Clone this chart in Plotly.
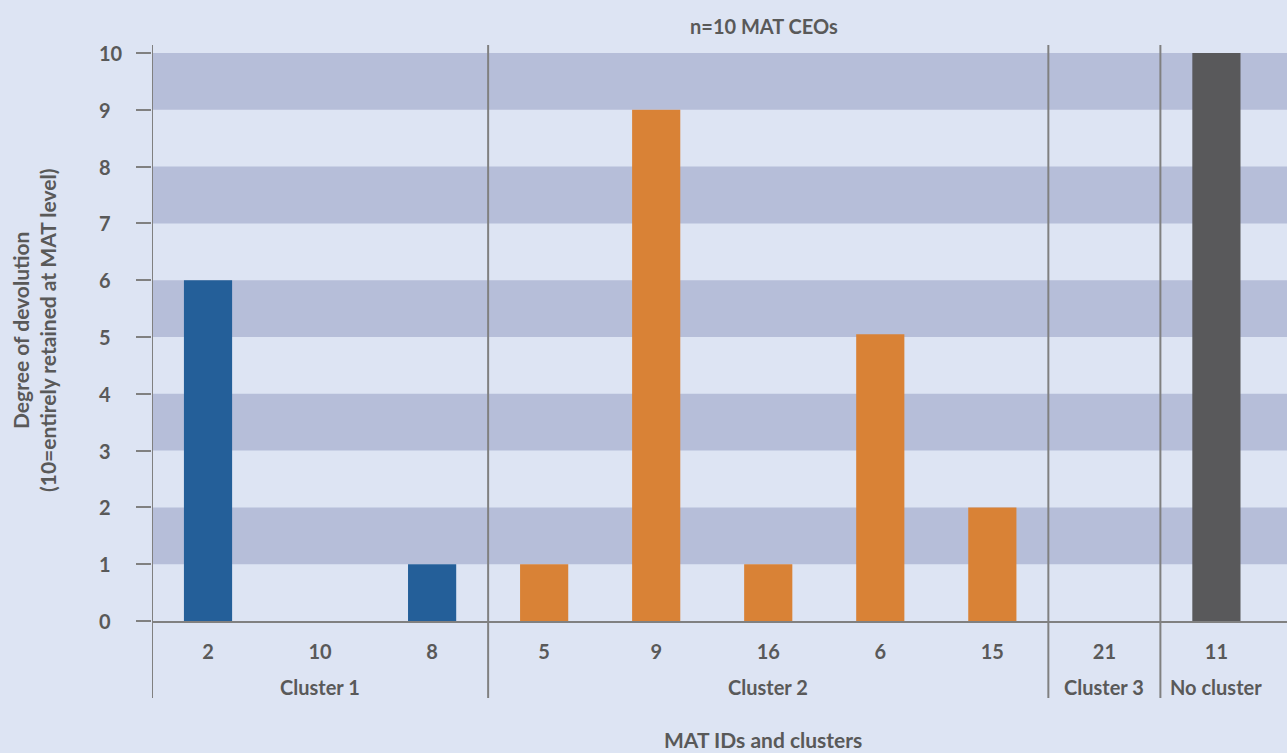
import plotly.graph_objects as go

ids = ["2", "10", "8", "5", "9", "16", "6", "15", "21", "11"]
values = [6, 0, 1, 1, 9, 1, 5.05, 2, 0, 10]
clusters = ["Cluster 1"] * 3 + ["Cluster 2"] * 5 + ["Cluster 3"] + ["No cluster"]
cluster_names = ["Cluster 1", "Cluster 2", "Cluster 3", "No cluster"]
cluster_colors = {"Cluster 1": "#245f99", "Cluster 2": "#d98236",
                  "Cluster 3": "#d98236", "No cluster": "#59595b"}
y_ticks = list(range(0, 11))
title_text = "n=10 MAT CEOs"
x_title = "MAT IDs and clusters"
y_title = "Degree of devolution<br>(10=entirely retained at MAT level)"

BG = "#dde4f3"
BAND = "#b6bed9"
LINE = "#808080"
TXT = "#595959"
FONT = "Lato"

PL, PT, PB = 152, 53, 621
PW, PH = 1287 - PL, PB - PT

xs = list(range(len(ids)))
fig = go.Figure()
fig.add_trace(go.Bar(x=xs, y=values, marker_color=[cluster_colors[c] for c in clusters],
                     marker_line_width=0, width=0.43, showlegend=False))

shapes = []
for lo in range(1, 10, 2):
    shapes.append(dict(type="rect", xref="paper", yref="y", x0=0, x1=1, y0=lo, y1=lo + 1,
                       fillcolor=BAND, line_width=0, layer="below"))
bounds = [-0.5]
for i in range(1, len(clusters)):
    if clusters[i] != clusters[i - 1]:
        bounds.append(i - 0.5)
for b in bounds:
    shapes.append(dict(type="line", xref="x", yref="paper", x0=b, x1=b,
                       y0=-(698 - PB) / PH, y1=1 + 8 / PH,
                       line=dict(color=LINE, width=2)))

annotations = []
for cn in cluster_names:
    idx = [i for i, c in enumerate(clusters) if c == cn]
    annotations.append(dict(x=sum(idx) / len(idx), y=-(687 - PB) / PH, xref="x", yref="paper",
                            xanchor="center", yanchor="middle",
                            text=f"<b>{cn}</b>", showarrow=False,
                            font=dict(family=FONT, size=20, color=TXT)))
for t in y_ticks:
    annotations.append(dict(x=(97 - PL) / PW, y=t, xref="paper", yref="y",
                            xanchor="left", yanchor="middle", text=f"<b>{t}</b>",
                            showarrow=False, font=dict(family=FONT, size=20, color=TXT)))
annotations.append(dict(x=(764 - PL) / PW, y=1.0 + (PT - 26) / PH, xref="paper", yref="paper",
                        xanchor="center", yanchor="middle",
                        text=f"<b>{title_text}</b>", showarrow=False,
                        font=dict(family=FONT, size=20, color=TXT)))
annotations.append(dict(x=(763 - PL) / PW, y=-(740 - PB) / PH, xref="paper", yref="paper",
                        xanchor="center", yanchor="middle",
                        text=f"<b>{x_title}</b>", showarrow=False,
                        font=dict(family=FONT, size=21, color=TXT)))
annotations.append(dict(x=(34 - PL) / PW, y=(PB - 331) / PH, xref="paper", yref="paper",
                        xanchor="center", yanchor="middle",
                        text=f"<b>{y_title}</b>", showarrow=False, textangle=-90,
                        font=dict(family=FONT, size=21, color=TXT)))

fig.update_layout(
    width=1287, height=753,
    margin=dict(l=PL, r=0, t=PT, b=753 - PB),
    paper_bgcolor=BG, plot_bgcolor=BG,
    shapes=shapes, annotations=annotations,
    xaxis=dict(range=[-0.5, 9.63], tickmode="array", tickvals=xs,
               ticktext=[f"<b>{t}</b>" for t in ids], showgrid=False, zeroline=False,
               showline=True, linecolor=LINE, linewidth=2, ticks="",
               ticklabelstandoff=12,
               tickfont=dict(family=FONT, size=20, color=TXT)),
    yaxis=dict(range=[0, 10], tickmode="array", tickvals=y_ticks,
               showticklabels=False, showgrid=False, zeroline=False,
               showline=False, ticks="outside", ticklen=15, tickwidth=2, tickcolor=LINE),
)
fig.write_html("out.html")
